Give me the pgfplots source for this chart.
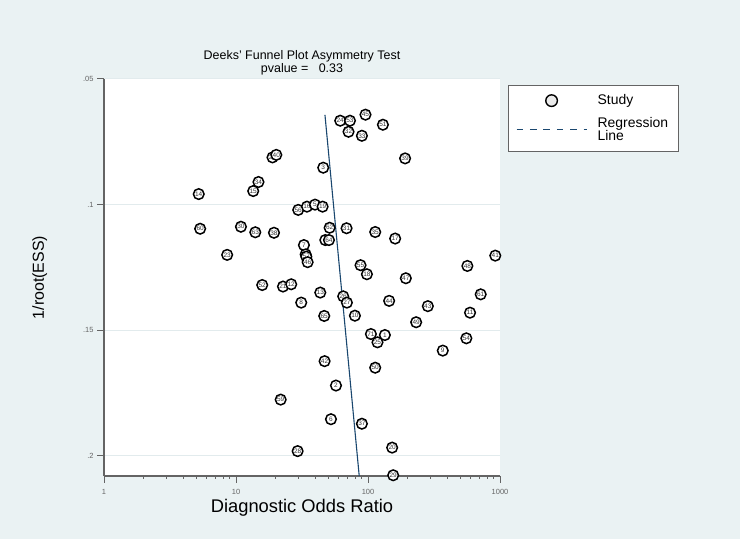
\documentclass[border=0pt]{standalone}
\usepackage{pgfplots}
\pgfplotsset{compat=1.18}
\usepackage{pgfplotstable}
\usepackage{fontspec}
\setmainfont{Liberation Sans}
\definecolor{bg}{RGB}{234,242,243}
\definecolor{gridc}{RGB}{226,235,237}
\definecolor{axgray}{RGB}{100,100,100}
\definecolor{navy}{RGB}{26,71,111}

% x = diagnostic odds ratio, y = 1/root(ESS), lab = study number
\pgfplotstableread{
x y lab
5.22 0.0958 14
13.5 0.0946 15
14.8 0.0910 34
18.9 0.0812 22
20.2 0.0802 40
45.8 0.0853 3
61.6 0.0666 24
73.0 0.0666 53
71.2 0.0710 32
89.9 0.0726 33
95.7 0.0642 45
129.7 0.0682 51
191 0.0816 39
5.35 0.1096 60
10.9 0.1088 30
14.0 0.1110 63
19.4 0.1112 38
29.6 0.1021 56
34.5 0.1008 16
39.7 0.1000 5
45.3 0.1008 19
51.2 0.1092 62
68.8 0.1094 31
113.4 0.1109 35
160.6 0.1135 17
47.5 0.1141 4
50.6 0.1141 64
32.7 0.1161 7
33.7 0.1198 36
34.1 0.1207 57
34.9 0.1229 46
8.57 0.1200 23
87.8 0.1241 55
98.1 0.1277 18
15.8 0.1320 52
22.7 0.1326 21
26.2 0.1317 12
43.5 0.1350 13
31.2 0.1390 8
64.9 0.1365 26
69.2 0.1390 27
46.6 0.1443 65
79.6 0.1442 10
144.6 0.1383 44
105.2 0.1515 71
134.2 0.1519 1
118.0 0.1548 25
46.9 0.1623 42
113.4 0.1649 50
921 0.1203 41
566 0.1244 48
193.5 0.1293 47
714 0.1357 61
284 0.1404 43
593 0.1430 11
231.6 0.1468 49
556 0.1532 54
368.6 0.1581 9
57.2 0.1720 2
21.8 0.1776 59
52.4 0.1854 6
89.9 0.1872 37
29.3 0.1981 28
152.4 0.1967 20
155.2 0.2077 29
}\studies

\pgfplotstableread{
x y
47.2 0.0643
85.8 0.208
}\regline

\begin{document}
\begin{tikzpicture}
\fill[bg] (0,0) rectangle (740bp,539bp);
\begin{axis}[
  at={(104bp,63bp)}, anchor=south west,
  scale only axis, width=396bp, height=397bp,
  xmode=log, xmin=1, xmax=1000,
  ymin=-0.208, ymax=-0.05,
  clip=false,
  axis background/.style={fill=white},
  axis x line*=bottom, axis y line*=left,
  axis line style={axgray, line width=1.6bp, -},
  xtick={1,10,100,1000}, xticklabels={1,10,100,1000},
  ytick={-0.05,-0.1,-0.15,-0.2}, yticklabels={.05,.1,.15,.2},
  minor xtick={}, minor ytick={},
  tick align=outside, major tick length=7bp,
  tick style={axgray, line width=1bp},
  ymajorgrids, grid style={gridc, line width=1bp},
  /pgf/number format/assume math mode=true,
  xticklabel style={font=\fontsize{7.5}{9}\selectfont, text=axgray, yshift=-3bp},
  yticklabel style={font=\fontsize{7.5}{9}\selectfont, text=axgray},
  title={Deeks' Funnel Plot Asymmetry Test\\pvalue =\ \ \ 0.33},
  title style={at={(axis description cs:0.5,1)}, anchor=south, align=center,
    font=\fontsize{12.5}{13}\selectfont, inner sep=0pt, yshift=-2.4bp},
  xlabel={Diagnostic Odds Ratio},
  xlabel style={at={(axis description cs:0.5,0)}, anchor=north, inner sep=0pt,
    yshift=-23.5bp, font=\fontsize{18.4}{20}\selectfont},
  ylabel={1/root(ESS)},
  ylabel style={at={(axis description cs:-0.162,0.5)}, anchor=center, inner sep=0pt,
    font=\fontsize{16}{18}\selectfont},
  legend style={at={(axis description cs:1.0194,0.985)}, anchor=north west,
    draw=axgray, fill=white, line width=0.8bp,
    font=\fontsize{14}{13.5}\selectfont,
    inner xsep=8bp, inner ysep=7.5bp, row sep=6.5bp},
  legend cell align=left,
  legend style={cells={align=left}},
]
\addplot[only marks, mark=*, mark size=5.3bp,
  mark options={draw=black, fill=white, line width=1.5bp},
  nodes near coords, point meta=explicit symbolic,
  nodes near coords style={anchor=center, inner sep=0pt,
    font=\fontsize{6.5}{7}\selectfont, text=black!80},
  legend image code/.code={\path[draw=none] (0,0) -- (79bp,0);
    \draw[black, line width=1.4bp, fill=black!8] (35bp,0) circle (5.8bp);}
] table[x=x, y expr=-\thisrow{y}, meta=lab] {\studies};
\addlegendentry{Study}
\addplot[navy, line width=1.1bp,
  legend image code/.code={\path[draw=none] (0,0) -- (79bp,0);
    \draw[navy, line width=1bp, dash pattern=on 6.7bp off 6.7bp] (0,0) -- (70bp,0);}
] table[x=x, y expr=-\thisrow{y}] {\regline};
\addlegendentry{Regression\\Line}
\end{axis}
\end{tikzpicture}
\end{document}
